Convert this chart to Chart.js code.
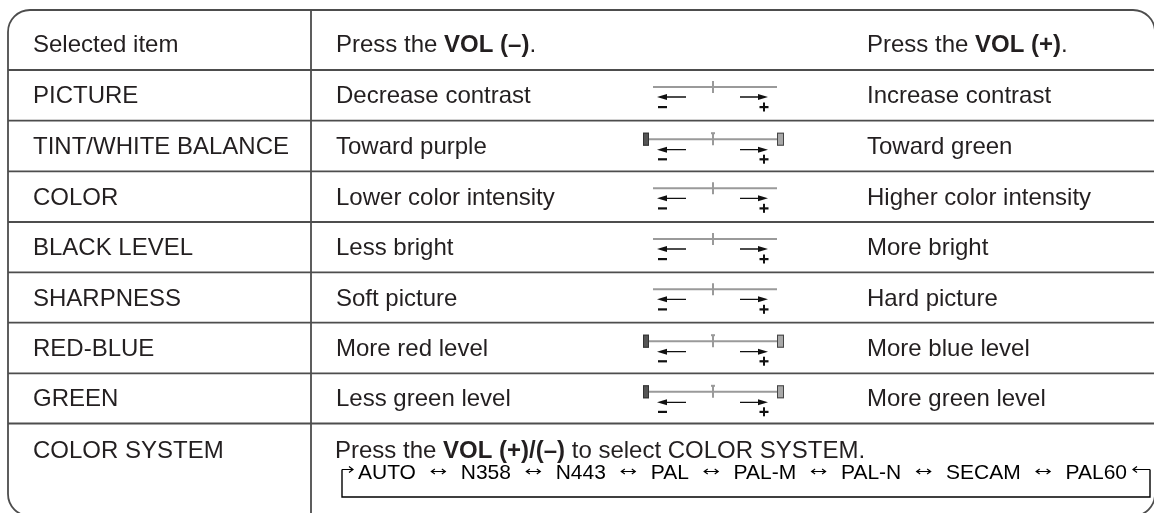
<!DOCTYPE html>
<html>
<head>
<meta charset="utf-8">
<script src="https://cdn.jsdelivr.net/npm/chart.js@4.4.1/dist/chart.umd.min.js"></script>
<style>
  html, body { margin: 0; padding: 0; background: #fff; }
  #wrap { width: 1154px; height: 513px; position: relative; }
</style>
</head>
<body>
<div id="wrap"><canvas id="menuTable"></canvas></div>
<script>
const headerItem = "Selected item";
const headerMinus = ["Press the ", "VOL (–)", "."];
const headerPlus = ["Press the ", "VOL (+)", "."];
const items = ["PICTURE", "TINT/WHITE BALANCE", "COLOR", "BLACK LEVEL", "SHARPNESS", "RED-BLUE", "GREEN"];
const minusActions = ["Decrease contrast", "Toward purple", "Lower color intensity", "Less bright", "Soft picture", "More red level", "Less green level"];
const plusActions = ["Increase contrast", "Toward green", "Higher color intensity", "More bright", "Hard picture", "More blue level", "More green level"];
const sliderEnds = [false, true, false, false, false, true, true];
const systemItem = "COLOR SYSTEM";
const systemNote = ["Press the ", "VOL (+)/(–)", " to select COLOR SYSTEM."];
const colorSystems = ["AUTO", "N358", "N443", "PAL", "PAL-M", "PAL-N", "SECAM", "PAL60"];

// layout, in page units that go through the chart's scales
const rowEdges = [10, 70, 120.7, 171.3, 222, 272.3, 322.7, 373.3, 423.5, 516];
const frame = { left: 8, top: 10, right: 1155, bottom: 516, r: 22 };
const divider = 311;
const colText = [33, 336, 867];
const FONT = '"Liberation Sans", Arial, Helvetica, sans-serif';
const TEXT = "#231f20";
const RULE = "#4d4d4d";

function richText(ctx, parts, x, y, size) {
  let cx = x;
  parts.forEach(function (p, i) {
    ctx.font = (i % 2 === 1 ? "bold " : "") + size + "px " + FONT;
    ctx.fillText(p, cx, y);
    cx += ctx.measureText(p).width;
  });
}

function arrowHead(ctx, tipX, y, dir, len, half) {
  ctx.beginPath();
  ctx.moveTo(tipX, y);
  ctx.lineTo(tipX - dir * len, y - half);
  ctx.lineTo(tipX - dir * len, y + half);
  ctx.closePath();
  ctx.fill();
}

function chevronArrow(ctx, x1, x2, y) {
  const dir = x2 > x1 ? 1 : -1;
  ctx.beginPath();
  ctx.moveTo(x1, y);
  ctx.lineTo(x2, y);
  ctx.moveTo(x2 - dir * 4, y - 3);
  ctx.lineTo(x2, y);
  ctx.lineTo(x2 - dir * 4, y + 3);
  ctx.stroke();
}

const tablePlugin = {
  id: "menuTable",
  afterDraw(chart) {
    const ctx = chart.ctx;
    const X = v => chart.scales.x.getPixelForValue(v);
    const Y = v => chart.scales.y.getPixelForValue(v);
    ctx.save();

    // outer rounded frame
    const f = frame;
    ctx.strokeStyle = RULE;
    ctx.lineWidth = 1.8;
    ctx.beginPath();
    ctx.moveTo(X(f.left + f.r), Y(f.top));
    ctx.lineTo(X(f.right - f.r), Y(f.top));
    ctx.arcTo(X(f.right), Y(f.top), X(f.right), Y(f.top + f.r), f.r);
    ctx.lineTo(X(f.right), Y(f.bottom - f.r));
    ctx.arcTo(X(f.right), Y(f.bottom), X(f.right - f.r), Y(f.bottom), f.r);
    ctx.lineTo(X(f.left + f.r), Y(f.bottom));
    ctx.arcTo(X(f.left), Y(f.bottom), X(f.left), Y(f.bottom - f.r), f.r);
    ctx.lineTo(X(f.left), Y(f.top + f.r));
    ctx.arcTo(X(f.left), Y(f.top), X(f.left + f.r), Y(f.top), f.r);
    ctx.closePath();
    ctx.stroke();

    // row rules and column divider
    ctx.beginPath();
    for (let i = 1; i < rowEdges.length - 1; i++) {
      ctx.moveTo(X(f.left), Y(rowEdges[i]));
      ctx.lineTo(X(f.right), Y(rowEdges[i]));
    }
    ctx.moveTo(X(divider), Y(f.top));
    ctx.lineTo(X(divider), Y(f.bottom));
    ctx.stroke();

    // header
    ctx.fillStyle = TEXT;
    ctx.textBaseline = "alphabetic";
    ctx.font = "24px " + FONT;
    ctx.fillText(headerItem, X(colText[0]), Y(rowEdges[0] + 42));
    richText(ctx, headerMinus, X(colText[1]), Y(rowEdges[0] + 42), 24);
    richText(ctx, headerPlus, X(colText[2]), Y(rowEdges[0] + 42), 24);

    // item rows
    items.forEach(function (name, i) {
      const top = rowEdges[i + 1];
      const mid = (top + rowEdges[i + 2]) / 2;
      ctx.fillStyle = TEXT;
      ctx.font = "24px " + FONT;
      ctx.fillText(name, X(colText[0]), Y(mid + 8));
      ctx.fillText(minusActions[i], X(colText[1]), Y(mid + 8));
      ctx.fillText(plusActions[i], X(colText[2]), Y(mid + 8));
      drawSlider(ctx, X, Y, top, sliderEnds[i]);
    });

    // colour system row
    const sTop = rowEdges[8];
    ctx.fillStyle = TEXT;
    ctx.font = "24px " + FONT;
    ctx.fillText(systemItem, X(colText[0]), Y(sTop + 34));
    richText(ctx, systemNote, X(335), Y(sTop + 34), 24);
    drawSequence(ctx, X, Y, sTop);

    ctx.restore();
  }
};

function drawSlider(ctx, X, Y, top, ends) {
  const lineY = top + (ends ? 18.5 : 17);
  ctx.strokeStyle = "#9a9a9a";
  ctx.lineWidth = 2;
  ctx.beginPath();
  ctx.moveTo(X(ends ? 649 : 653), Y(lineY));
  ctx.lineTo(X(777), Y(lineY));
  ctx.moveTo(X(713), Y(lineY - 6));
  ctx.lineTo(X(713), Y(lineY + 6));
  ctx.stroke();
  if (ends) {
    ctx.beginPath();
    ctx.moveTo(X(711), Y(lineY - 6));
    ctx.lineTo(X(715), Y(lineY - 6));
    ctx.stroke();
    ctx.lineWidth = 1;
    ctx.fillStyle = "#555";
    ctx.strokeStyle = "#333";
    ctx.fillRect(X(643), Y(lineY - 6.5), 6, 13);
    ctx.strokeRect(X(643) + 0.5, Y(lineY - 6.5) + 0.5, 5, 12);
    ctx.fillStyle = "#a8a8a8";
    ctx.strokeStyle = "#444";
    ctx.fillRect(X(777), Y(lineY - 6.5), 7, 13);
    ctx.strokeRect(X(777) + 0.5, Y(lineY - 6.5) + 0.5, 6, 12);
  }
  const arrowY = top + (ends ? 29 : 27);
  const signY = top + (ends ? 38.5 : 37);
  ctx.strokeStyle = "#111";
  ctx.fillStyle = "#111";
  ctx.lineWidth = 1.3;
  ctx.beginPath();
  ctx.moveTo(X(665), Y(arrowY));
  ctx.lineTo(X(686), Y(arrowY));
  ctx.moveTo(X(740), Y(arrowY));
  ctx.lineTo(X(760), Y(arrowY));
  ctx.stroke();
  arrowHead(ctx, X(657), Y(arrowY), -1, 10, 3);
  arrowHead(ctx, X(768), Y(arrowY), 1, 10, 3);
  ctx.fillRect(X(658), Y(signY) - 1, 9, 2.2);
  ctx.fillRect(X(759.5), Y(signY) - 1, 9, 2.2);
  ctx.fillRect(X(763), Y(signY) - 4.5, 2, 9);
}

function drawSequence(ctx, X, Y, top) {
  const seqLeft = 358, seqRight = 1127;
  const base = top + 55.5, arrowY = top + 46, bracketY = top + 73.5;
  const leftX = 342, rightX = 1150;
  ctx.font = "21px " + FONT;
  ctx.fillStyle = "#000";
  const widths = colorSystems.map(s => ctx.measureText(s).width);
  const total = widths.reduce((a, b) => a + b, 0);
  const gap = (seqRight - seqLeft - total) / (colorSystems.length - 1);
  let cx = seqLeft;
  ctx.strokeStyle = "#000";
  ctx.lineWidth = 1.2;
  colorSystems.forEach(function (s, i) {
    ctx.fillText(s, X(cx), Y(base));
    cx += widths[i];
    if (i < colorSystems.length - 1) {
      const m = cx + gap / 2;
      const y = top + 48;
      ctx.beginPath();
      ctx.moveTo(X(m - 7), Y(y));
      ctx.lineTo(X(m + 7), Y(y));
      ctx.moveTo(X(m - 3.5), Y(y - 2.5));
      ctx.lineTo(X(m - 7), Y(y));
      ctx.lineTo(X(m - 3.5), Y(y + 2.5));
      ctx.moveTo(X(m + 3.5), Y(y - 2.5));
      ctx.lineTo(X(m + 7), Y(y));
      ctx.lineTo(X(m + 3.5), Y(y + 2.5));
      ctx.stroke();
      cx += gap;
    }
  });
  // loop bracket
  ctx.lineWidth = 1.4;
  ctx.beginPath();
  ctx.moveTo(X(leftX), Y(arrowY));
  ctx.lineTo(X(leftX), Y(bracketY));
  ctx.lineTo(X(rightX), Y(bracketY));
  ctx.lineTo(X(rightX), Y(arrowY));
  ctx.stroke();
  ctx.lineWidth = 1.2;
  chevronArrow(ctx, X(leftX), X(353), Y(arrowY));
  chevronArrow(ctx, X(rightX), X(1133), Y(arrowY));
}

new Chart(document.getElementById("menuTable").getContext("2d"), {
  type: "scatter",
  data: { datasets: [{ data: [] }] },
  options: {
    responsive: true,
    maintainAspectRatio: false,
    animation: false,
    devicePixelRatio: 1,
    layout: { padding: 0 },
    plugins: { legend: { display: false }, tooltip: { enabled: false } },
    scales: {
      x: { type: "linear", min: 0, max: 1154, display: false },
      y: { type: "linear", min: 0, max: 513, reverse: true, display: false }
    }
  },
  plugins: [tablePlugin]
});
</script>
</body>
</html>
